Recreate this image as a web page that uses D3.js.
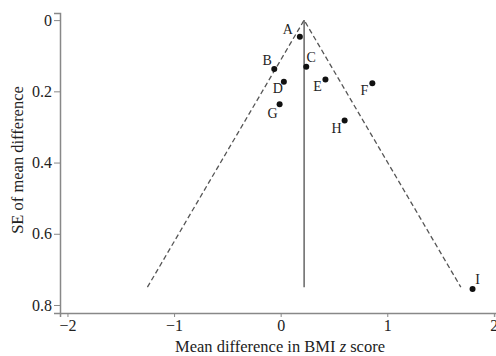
<!DOCTYPE html>
<html lang="en">
  <head>
    <meta charset="utf-8">
    <title>funnel plot</title>
    <script src="https://d3js.org/d3.v7.min.js"></script>
    <style>
      body { margin: 0; background: #fff; }
      text { font-family: "Liberation Serif", "Times New Roman", serif; }
    </style>
  </head>

  <body>
  <script>

  // study data
  var studies = ["A", "B", "C", "D", "E", "F", "G", "H", "I"];
  var meanDiff = [0.18, -0.06, 0.24, 0.03, 0.42, 0.86, -0.01, 0.60, 1.80];
  var seDiff = [0.047, 0.137, 0.131, 0.173, 0.167, 0.177, 0.236, 0.282, 0.755];
  var labelDx = [-12, -7, 5, -6, -8, -8, -7, -8, 5];
  var labelDy = [-7, -8, -9, 7, 7, 7, 9, 8, -9];

  var pooled = 0.22;
  var seMax = 0.75;
  var xTicks = [-2, -1, 0, 1, 2];
  var yTicks = [0, 0.2, 0.4, 0.6, 0.8];

  var w = 496;
  var h = 356;
  var margin = {top: 13, right: 0, bottom: 43, left: 60};

  var svg = d3.select("body")
    .append("svg")
      .attr("width", w)
      .attr("height", h);

  var xScale = d3.scaleLinear()
      .domain([-2.07, 2.02])
      .range([margin.left, w - margin.right]);

  var yScale = d3.scaleLinear()
      .domain([-0.02, 0.8225])
      .range([margin.top, h - margin.bottom]);

  var xAxis = d3.axisBottom(xScale)
      .tickValues(xTicks)
      .tickSize(4)
      .tickPadding(3)
      .tickFormat(d => d < 0 ? "\u2212" + Math.abs(d) : d);

  var yAxis = d3.axisLeft(yScale)
      .tickValues(yTicks)
      .tickSize(6)
      .tickPadding(2)
      .tickFormat(d => d === 0 ? "0" : d3.format(".1f")(d));

  var gx = svg.append("g")
      .attr("class", "xAxis")
      .attr("transform", `translate(0, ${h - margin.bottom})`)
      .call(xAxis);

  var gy = svg.append("g")
      .attr("class", "yAxis")
      .attr("transform", `translate(${margin.left}, 0)`)
      .call(yAxis);

  [gx, gy].forEach(function(g) {
    g.select(".domain").attr("stroke", "#888").attr("stroke-width", 1.5);
    g.selectAll(".tick line").attr("stroke", "#888");
    g.selectAll(".tick text")
      .attr("fill", "#222")
      .style("font-size", "16px")
      .style("font-family", "'Liberation Serif', serif");
  });

  // funnel: dashed 95% limits
  var funnel = [
    [pooled - 1.96 * seMax, seMax],
    [pooled, 0],
    [pooled + 1.96 * seMax, seMax]
  ];

  svg.append("path")
      .datum(funnel)
      .attr("d", d3.line().x(d => xScale(d[0])).y(d => yScale(d[1])))
      .attr("fill", "none")
      .attr("stroke", "#555")
      .attr("stroke-width", 1.3)
      .attr("stroke-dasharray", "5,3");

  // pooled estimate line
  svg.append("line")
      .attr("x1", xScale(pooled))
      .attr("x2", xScale(pooled))
      .attr("y1", yScale(0))
      .attr("y2", yScale(seMax))
      .attr("stroke", "#666")
      .attr("stroke-width", 1.5);

  var pts = studies.map((s, i) => ({name: s, x: meanDiff[i], y: seDiff[i], dx: labelDx[i], dy: labelDy[i]}));

  svg.append("g")
    .selectAll("circle")
    .data(pts)
    .enter().append("circle")
      .attr("cx", d => xScale(d.x))
      .attr("cy", d => yScale(d.y))
      .attr("r", 3)
      .attr("fill", "#111");

  svg.append("g")
    .selectAll("text")
    .data(pts)
    .enter().append("text")
      .attr("x", d => xScale(d.x) + d.dx)
      .attr("y", d => yScale(d.y) + d.dy)
      .attr("text-anchor", "middle")
      .attr("dominant-baseline", "central")
      .style("font-size", "14px")
      .attr("fill", "#222")
      .text(d => d.name);

  // axis titles
  var xt = svg.append("text")
      .attr("x", 280)
      .attr("y", 352)
      .attr("text-anchor", "middle")
      .style("font-size", "16.5px")
      .attr("fill", "#222");
  xt.append("tspan").text("Mean difference in BMI ");
  xt.append("tspan").style("font-style", "italic").text("z");
  xt.append("tspan").text(" score");

  svg.append("text")
      .attr("transform", "translate(23, 160) rotate(-90)")
      .attr("text-anchor", "middle")
      .style("font-size", "16.5px")
      .attr("fill", "#222")
      .text("SE of mean difference");

  </script>
  </body>
</html>
